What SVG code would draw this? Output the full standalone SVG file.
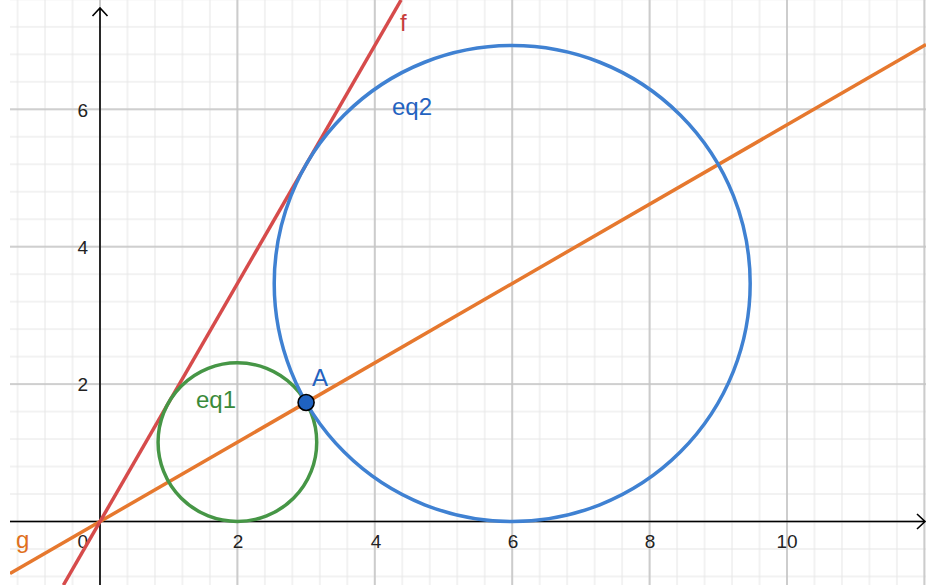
<svg xmlns="http://www.w3.org/2000/svg" width="935" height="585" viewBox="0 0 935 585">
<style>
.tick{font-family:"Liberation Sans",Arial,sans-serif;font-size:19px;fill:#222}
.lbl{font-family:"Liberation Sans",Arial,sans-serif;font-size:24px}
.curve{fill:none;stroke-width:3.5}
.axis{fill:none;stroke:#000;stroke-width:1.6}
</style>
<defs>
<pattern id="minor" patternUnits="userSpaceOnUse" x="86.26" y="507.76" width="27.48" height="27.48">
<path d="M13.74 0V27.48M0 13.74H27.48" stroke="#e6e6e6" stroke-width="1"/>
</pattern>
<pattern id="major" patternUnits="userSpaceOnUse" x="31.3" y="452.8" width="137.4" height="137.4">
<path d="M68.7 0V137.4M0 68.7H137.4" stroke="#c4c4c4" stroke-width="1.6"/>
</pattern>
<clipPath id="plot"><rect x="10" y="0" width="916" height="585"/></clipPath>
</defs>
<rect width="935" height="585" fill="#fff"/>
<g id="grid">
<rect x="10" width="916" height="585" fill="url(#minor)"/>
<rect x="10" width="916" height="585" fill="url(#major)"/>
</g>
<g id="axes">
<path class="axis" d="M10 521.5H925M917 514L925 521.5L917 529"/>
<path class="axis" d="M100 585V8M92.5 16L100 8L107.5 16"/>
<text class="tick" x="88" y="548" text-anchor="end">0</text>
<text class="tick" x="238" y="548" text-anchor="middle">2</text>
<text class="tick" x="376" y="548" text-anchor="middle">4</text>
<text class="tick" x="513" y="548" text-anchor="middle">6</text>
<text class="tick" x="650" y="548" text-anchor="middle">8</text>
<text class="tick" x="787" y="548" text-anchor="middle">10</text>
<text class="tick" x="88" y="391" text-anchor="end">2</text>
<text class="tick" x="88" y="254" text-anchor="end">4</text>
<text class="tick" x="88" y="117" text-anchor="end">6</text>
</g>
<g id="connectors" clip-path="url(#plot)">
<line id="g" class="curve" x1="10" y1="573.5" x2="926" y2="44.6" stroke="#e6782e"/>
<line id="f" class="curve" x1="63.4" y1="585" x2="401.1" y2="0" stroke="#d64b4b"/>
</g>
<g id="eq1">
<circle class="curve" cx="237.4" cy="442.17" r="79.33" stroke="#469646"/>
<text class="lbl" x="196" y="408" fill="#3a8a3a">eq1</text>
</g>
<g id="eq2">
<circle class="curve" cx="512.2" cy="283.52" r="237.98" stroke="#3f81d2"/>
<text class="lbl" x="392" y="115" fill="#2362bf">eq2</text>
</g>
<g id="f-label"><text class="lbl" x="400" y="31" fill="#c83c3c">f</text></g>
<g id="g-label"><text class="lbl" x="16" y="548" fill="#e07020">g</text></g>
<g id="A">
<circle cx="306.1" cy="402.5" r="8" fill="#1f62c0" stroke="#000" stroke-width="1.6"/>
<text class="lbl" x="312" y="386" fill="#2362bf">A</text>
</g>
</svg>
